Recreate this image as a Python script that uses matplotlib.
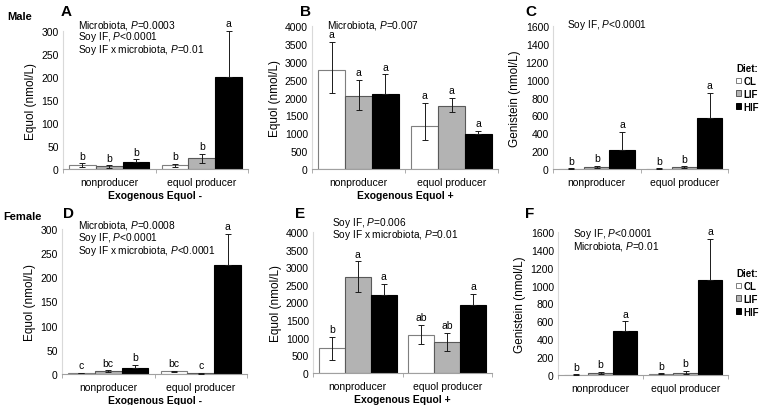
import matplotlib
matplotlib.use('Agg')
import matplotlib.pyplot as plt
import numpy as np
from matplotlib.patches import Patch

plt.rcParams['font.family'] = ['Liberation Sans', 'DejaVu Sans']
plt.rcParams['mathtext.fontset'] = 'custom'
plt.rcParams['mathtext.it'] = 'Liberation Sans:italic'
plt.rcParams['mathtext.rm'] = 'Liberation Sans'

groups = ['nonproducer', 'equol producer']
diets = ['CL', 'LIF', 'HIF']
diet_colors = ['white', '#b3b3b3', 'black']
edge_colors = ['#7f7f7f', '#595959', 'black']

# panel A - male, exogenous equol -
a_cl, a_lif, a_hif = [8, 8], [5.5, 23], [14.5, 200]
a_err = [[4, 3], [2.5, 10], [6.5, 100]]
a_letters = [['b', 'b'], ['b', 'b'], ['b', 'a']]

# panel B - male, exogenous equol +
b_cl, b_lif, b_hif = [2760, 1215], [2030, 1775], [2100, 980]
b_err_hi = [[795, 625], [465, 205], [545, 95]]
b_err_lo = [[630, 400], [375, 170], [545, 95]]
b_letters = [['a', 'a'], ['a', 'a'], ['a', 'a']]

# panel C - male genistein
c_cl, c_lif, c_hif = [5, 5], [26, 19], [217, 572]
c_err = [[2, 2], [10, 10], [195, 277]]
c_letters = [['b', 'b'], ['b', 'b'], ['a', 'a']]

# panel D - female, exogenous equol -
d_cl, d_lif, d_hif = [2, 5.5], [5.5, 2], [13, 225]
d_err = [[0.5, 1.5], [2, 1], [5.5, 65]]
d_letters = [['c', 'bc'], ['bc', 'c'], ['b', 'a']]

# panel E - female, exogenous equol +
e_cl, e_lif, e_hif = [700, 1076], [2728, 886], [2200, 1924]
e_err_hi = [[335, 285], [440, 255], [330, 325]]
e_err_lo = [[330, 245], [430, 265], [260, 325]]
e_letters = [['b', 'ab'], ['a', 'ab'], ['a', 'a']]

# panel F - female genistein
f_cl, f_lif, f_hif = [5, 15], [22, 26], [487, 1063]
f_err = [[2, 2], [10, 18], [112, 460]]
f_letters = [['b', 'b'], ['b', 'b'], ['a', 'a']]

W, H = 760, 406
fig = plt.figure(figsize=(W / 100, H / 100), dpi=100)


def box(l, r, t, b):
    return [l / W, 1 - b / H, (r - l) / W, (b - t) / H]


def px(x, y):
    return x / W, 1 - y / H


def panel(rect, vals, err_lo, err_hi, letters, ymax, ystep, ylabel, xlabel):
    ax = fig.add_axes(rect)
    x = np.arange(len(groups))
    w = 0.29
    for i in range(3):
        pos = x + (i - 1) * w
        ax.bar(pos, vals[i], w, color=diet_colors[i], edgecolor=edge_colors[i],
               linewidth=0.8, zorder=2)
        # lower half of the error bar is hidden inside the black bars
        lo = [0] * len(groups) if i == 2 else err_lo[i]
        ax.errorbar(pos, vals[i], yerr=[lo, err_hi[i]], fmt='none',
                    ecolor='#1a1a1a', elinewidth=0.7, capsize=2, capthick=0.7, zorder=3)
        for j in range(len(groups)):
            ax.annotate(letters[i][j], (pos[j], vals[i][j] + err_hi[i][j]),
                        xytext=(0, 2), textcoords='offset points',
                        ha='center', va='bottom', fontsize=7.5, annotation_clip=False)
    ax.set_xlim(-0.5, 1.5)
    ax.set_ylim(0, ymax)
    ax.set_yticks(np.arange(0, ymax + 1, ystep))
    ax.set_xticks(x)
    ax.set_xticklabels(groups)
    ax.set_xticks([-0.5, 0.5, 1.5], minor=True)
    ax.tick_params(axis='x', which='major', length=0, labelsize=7.5, pad=6)
    ax.tick_params(axis='x', which='minor', length=3, color='#a0a0a0', direction='out')
    ax.tick_params(axis='y', length=0, labelsize=7.5, pad=3)
    for s in ['top', 'right']:
        ax.spines[s].set_visible(False)
    ax.spines['left'].set_color('#d9d9d9')
    ax.spines['bottom'].set_color('#a0a0a0')
    ax.set_ylabel(ylabel, fontsize=8.5, labelpad=3)
    if xlabel:
        ax.set_xlabel(xlabel, fontsize=7.5, fontweight='bold', labelpad=2)
    return ax


def legend(ax, x, y):
    handles = [Patch(facecolor=diet_colors[i], edgecolor=edge_colors[i], linewidth=0.7)
               for i in range(3)]
    leg = ax.legend(handles, diets, title='Diet:', loc='upper left',
                    bbox_to_anchor=px(x, y), bbox_transform=fig.transFigure,
                    frameon=False, handlelength=0.55, handleheight=0.55,
                    handletextpad=0.25, labelspacing=0.3, borderpad=0,
                    borderaxespad=0,
                    prop={'size': 7, 'weight': 'bold'},
                    title_fontproperties={'size': 7, 'weight': 'bold'})
    leg._legend_box.align = 'left'


panel(box(63, 248, 32, 170), [a_cl, a_lif, a_hif], a_err, a_err, a_letters,
      300, 50, 'Equol (nmol/L)', 'Exogenous Equol -')
panel(box(312, 498, 27, 170), [b_cl, b_lif, b_hif], b_err_lo, b_err_hi, b_letters,
      4000, 500, 'Equol (nmol/L)', 'Exogenous Equol +')
ax_c = panel(box(553, 728, 27, 170), [c_cl, c_lif, c_hif], c_err, c_err, c_letters,
             1600, 200, 'Genistein (nmol/L)', None)
panel(box(62, 247, 230, 375), [d_cl, d_lif, d_hif], d_err, d_err, d_letters,
      300, 50, 'Equol (nmol/L)', 'Exogenous Equol -')
panel(box(313, 492, 233, 374), [e_cl, e_lif, e_hif], e_err_lo, e_err_hi, e_letters,
      4000, 500, 'Equol (nmol/L)', 'Exogenous Equol +')
ax_f = panel(box(558, 728, 233, 376), [f_cl, f_lif, f_hif], f_err, f_err, f_letters,
             1600, 200, 'Genistein (nmol/L)', None)

legend(ax_c, 736, 64)
legend(ax_f, 736, 269)

fs = 7.3
# row labels and panel letters
fig.text(*px(7, 17), 'Male', fontsize=8, fontweight='bold', va='center')
fig.text(*px(3, 217), 'Female', fontsize=8, fontweight='bold', va='center')
for lab, (lx, ly) in zip('ABCDEF', [(61, 12), (300, 12), (525, 12),
                                     (63, 214), (295, 214), (525, 214)]):
    fig.text(*px(lx, ly), lab, fontsize=11, fontweight='bold', va='center')

# statistics text
stats = [
    (78, 25, ['Microbiota, $\\it{P}$=0.0003', 'Soy IF, $\\it{P}$<0.0001',
              'Soy IF x microbiota, $\\it{P}$=0.01']),
    (327, 25, ['Microbiota, $\\it{P}$=0.007']),
    (567, 25, ['Soy IF, $\\it{P}$<0.0001']),
    (78, 226, ['Microbiota, $\\it{P}$=0.0008', 'Soy IF, $\\it{P}$<0.0001',
               'Soy IF x microbiota, $\\it{P}$<0.0001']),
    (332, 223, ['Soy IF, $\\it{P}$=0.006', 'Soy IF x microbiota, $\\it{P}$=0.01']),
    (573, 234, ['Soy IF, $\\it{P}$<0.0001', 'Microbiota, $\\it{P}$=0.01']),
]
for sx, sy, lines in stats:
    for k, line in enumerate(lines):
        fig.text(*px(sx, sy + k * 12.5), line, fontsize=fs, va='center')

fig.savefig('out.png', dpi=100)
